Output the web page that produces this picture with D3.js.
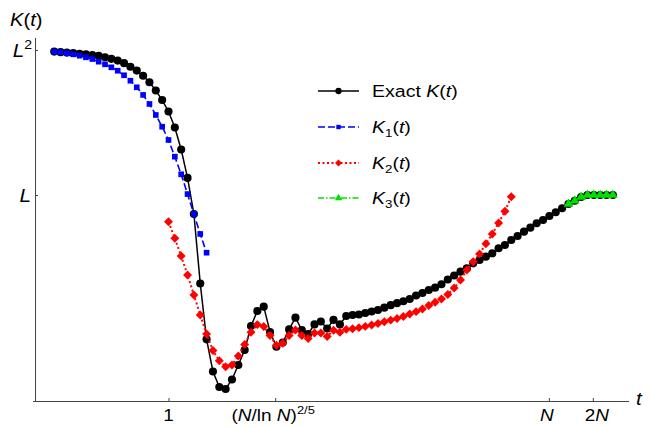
<!DOCTYPE html>
<html><head><meta charset="utf-8">
<script src="https://cdn.jsdelivr.net/npm/d3@7"></script>
<style>
body{margin:0;background:#fff;}
svg{font-family:"Liberation Sans",Arial,sans-serif;}
</style></head><body>
<svg id="c" width="650" height="428"></svg>
<script>
const N = 400;
const L = 100;
const tValues = [0.1653,0.1827,0.2019,0.2231,0.2466,0.2725,0.3012,0.3329,0.3679,0.4066,0.4493,0.4966,0.5488,0.6065,0.6703,0.7408,0.8187,0.9048,
1,1.105,1.221,1.350,1.492,1.649,1.822,2.014,2.226,2.460,2.718,
3.004,3.320,3.669,4.055,4.482,4.953,5.474,6.050,6.686,7.389,
8.166,9.025,9.974,11.02,12.18,13.46,14.88,16.44,18.17,20.09,
22.20,24.53,27.11,29.96,33.12,36.60,40.45,44.70,49.40,54.60,
60.34,66.69,73.70,81.45,90.02,99.48,109.9,121.5,134.3,148.4,
164.0,181.3,200.3,221.4,244.7,270.4,298.9,330.3,365.0,403.4,
445.9,492.7,544.6,601.8,665.1,735.1,812.4,897.8,992.3,1096.6];
const exactK = [9510,9330,9210,9090,8890,8700,8530,8290,7930,7560,7140,6580,5870,5200,4410,3590,2760,2040,
1420,853,424,172,54.7,6.02,1.02,0.368,0.225,0.211,
0.285,0.452,0.728,1.56,2.51,2.88,1.29,0.808,0.924,1.40,
2.03,1.37,1.21,1.64,1.80,1.44,1.89,1.64,2.14,2.21,
2.25,2.36,2.47,2.59,2.79,3.02,3.22,3.42,3.68,4.11,
4.45,4.89,5.27,5.87,6.83,7.76,8.75,9.75,11.4,12.7,
14.1,15.7,18.4,20.4,23.9,27.2,31.2,35.4,40.7,45.2,
51.3,57.7,65.6,75.1,83.4,93.8,100,100,100,100,100];
const k1T = tValues.slice(0, 25);
const k1Values = [9480,9300,9000,8720,8340,7930,7510,6900,6350,5770,5180,4480,3770,3060,2400,1800,1270,875,574,338,193,103,54.7,29.0,16.0];
const k2T = tValues.slice(18, 73);
const k2Values = [42.8,25.3,14.4,7.88,4.18,2.21,1.21,0.716,0.517,0.427,
0.452,0.602,0.867,1.28,1.63,1.53,1.15,0.845,0.901,1.15,
1.37,1.15,1.05,1.25,1.25,1.12,1.36,1.28,1.40,1.43,
1.48,1.54,1.61,1.69,1.78,1.88,1.98,2.11,2.28,2.46,
2.68,2.99,3.31,3.68,4.24,5.21,6.72,9.24,12.0,15.4,
21.3,29.0,41.1,59.6,94.8];
const k3T = tValues.slice(81, 89);
const k3Values = [75.1,83.4,93.8,100,100,100,100,100];
const xTickValues = [1, Math.pow(N/Math.log(N), 0.4), N, 2*N];
const yTickValues = [L*L, L];
const legendNames = ["Exact", "K1", "K2", "K3"];

const svg = d3.select("#c");
const x = d3.scaleLog().domain([0.1221, 1414]).range([35, 629]);
const y = d3.scaleLog().domain([0.144, 14640]).range([401, 38]);
const SX = 1.15;

// rich text helper: parts = [[text, opts]]
function rich(x0, y0, anchor, size, parts) {
  const g = svg.append("g").attr("transform", `translate(${x0},${y0}) scale(${SX},1)`);
  const t = g.append("text").attr("text-anchor", anchor).attr("font-size", size).attr("fill", "#000");
  let cur = 0;
  parts.forEach(([s, o]) => {
    o = o || {};
    const sp = t.append("tspan").text(s);
    if (o.i) sp.attr("font-style", "italic");
    let shift = 0;
    if (o.sup) { sp.attr("font-size", size * 0.68); shift = -Math.round(size * 0.45); }
    if (o.sub) { sp.attr("font-size", size * 0.68); shift = Math.round(size * 0.25); }
    if (shift !== cur) { sp.attr("dy", shift - cur); cur = shift; }
  });
  return t;
}

const axisColor = "#444";
const gx = svg.append("g").attr("transform","translate(0,401)")
  .call(d3.axisBottom(x).tickValues(xTickValues).tickSize(-3).tickSizeOuter(0).tickFormat(""));
gx.select(".domain").attr("d","M33,0.5H629").attr("stroke",axisColor);
gx.selectAll(".tick line").attr("stroke",axisColor);
const gy = svg.append("g").attr("transform","translate(35,0)")
  .call(d3.axisLeft(y).tickValues(yTickValues).tickSize(-3).tickSizeOuter(0).tickFormat(""));
gy.select(".domain").attr("d","M0.5,38V401").attr("stroke",axisColor);
gy.selectAll(".tick line").attr("stroke",axisColor);

// x tick labels
const FS = 16.5;
rich(x(xTickValues[0]), 421, "middle", FS, [["1"]]);
rich(x(xTickValues[1]) - 2, 421, "middle", FS, [["("],["N",{i:1}],["/ln "],["N",{i:1}],[")"],["2/5",{sup:1}]]);
rich(x(xTickValues[2]) - 2, 421, "middle", FS, [["N",{i:1}]]);
rich(x(xTickValues[3]) + 4, 421, "middle", FS, [["2"],["N",{i:1}]]);
rich(636, 405, "start", 18, [["t",{i:1}]]);

// y labels
rich(32, y(yTickValues[0]) + 7, "end", 18, [["L",{i:1}],["2",{sup:1}]]);
rich(31, y(yTickValues[1]) + 7, "end", 18, [["L",{i:1}]]);
rich(10, 26, "start", 17.5, [["K",{i:1}],["("],["t",{i:1}],[")"]]);

// series
const diamond = { draw(ctx, size) { const r = Math.sqrt(size / 2); ctx.moveTo(0,-r); ctx.lineTo(r,0); ctx.lineTo(0,r); ctx.lineTo(-r,0); ctx.closePath(); } };
const series = [
  {t:tValues, v:exactK, color:"#000", dash:null, width:1.5, sym:d3.symbolCircle, size:52},
  {t:k1T, v:k1Values, color:"#0000ff", dash:"7,3", width:1.6, sym:d3.symbolSquare, size:32},
  {t:k2T, v:k2Values, color:"#ff0000", dash:"2,2.5", width:2, sym:diamond, size:40},
  {t:k3T, v:k3Values, color:"#00e000", dash:"6,2,1.5,2", width:1.6, sym:d3.symbolTriangle, size:40}
];
const line = d3.line().x(d=>x(d[0])).y(d=>y(d[1]));
series.forEach(s=>{
  const pts = s.t.map((t,i)=>[t, s.v[i]]);
  svg.append("path").attr("d",line(pts)).attr("fill","none").attr("stroke",s.color)
    .attr("stroke-width",s.width).attr("stroke-dasharray",s.dash);
  svg.append("g").selectAll("path").data(pts).join("path")
    .attr("transform",d=>`translate(${x(d[0])},${y(d[1])})`)
    .attr("d",d3.symbol().type(s.sym).size(s.size)).attr("fill",s.color);
});

// legend
const legY = [91,127,163,198];
series.forEach((s,i)=>{
  const ly = legY[i];
  svg.append("line").attr("x1",318).attr("x2",359).attr("y1",ly).attr("y2",ly)
    .attr("stroke",s.color).attr("stroke-width",s.width).attr("stroke-dasharray",s.dash);
  svg.append("path").attr("transform",`translate(338.5,${ly})`).attr("d",d3.symbol().type(s.sym).size(s.size*0.6)).attr("fill",s.color);
  const nm = legendNames[i];
  const parts = nm === "Exact"
    ? [["Exact "],["K",{i:1}],["("],["t",{i:1}],[")"]]
    : [["K",{i:1}],[nm.slice(1),{sub:1}],["("],["t",{i:1}],[")"]];
  rich(372, ly + 6, "start", 17, parts);
});
</script>
</body></html>
